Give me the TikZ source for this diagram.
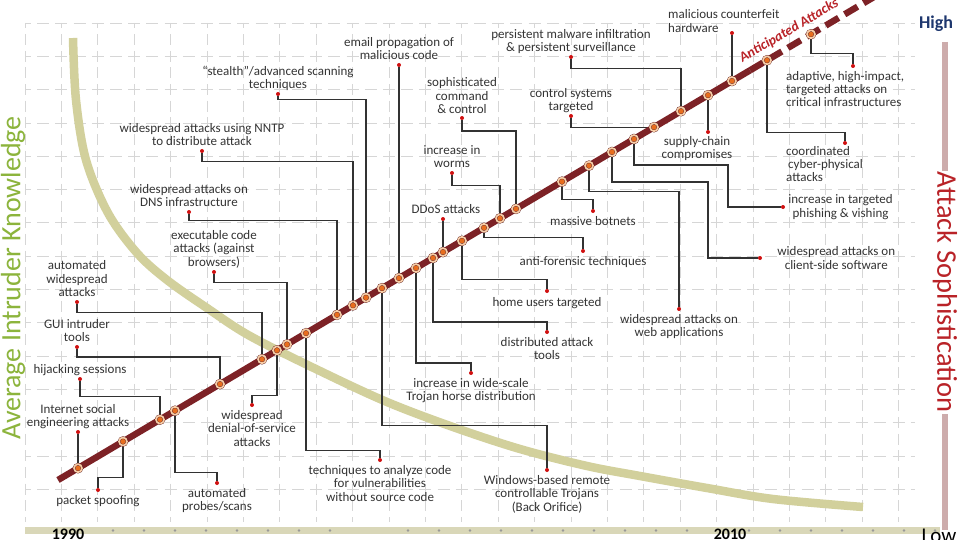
\documentclass[tikz,border=0pt]{standalone}
\usepackage{fontspec}
\setmainfont{Carlito}
\usetikzlibrary{positioning}
\definecolor{knowcurve}{RGB}{210,208,156}
\definecolor{trend}{RGB}{125,34,38}
\definecolor{spotorange}{RGB}{232,110,30}
\definecolor{spotrim}{RGB}{247,204,166}
\definecolor{tipred}{RGB}{208,16,16}
\definecolor{linkgray}{RGB}{50,50,50}
\definecolor{labelgray}{RGB}{52,52,52}
\definecolor{gridgray}{RGB}{214,214,214}
\definecolor{axisbar}{RGB}{217,215,184}
\definecolor{sophbar}{RGB}{205,172,172}
\definecolor{sophred}{RGB}{185,35,40}
\definecolor{knowgreen}{RGB}{140,180,60}
\definecolor{highblue}{RGB}{30,55,110}

\begin{document}
\begin{tikzpicture}[x=1pt, y=-1pt,
    lbl/.style={font=\fontsize{13}{13.3}\selectfont, text=labelgray, align=center, inner sep=0pt},
    hotspot/.style={circle, fill=spotorange, draw=trend!70!black, double=spotrim, double distance=1.7pt, line width=0.35pt, minimum size=8pt, inner sep=0pt},
    tip/.style={circle, fill=tipred, minimum size=4pt, inner sep=0pt},
    link/.style={draw=linkgray, line width=1.3pt},
    hgrid/.style={draw=gridgray, line width=0.7pt, dash pattern=on 12pt off 6.2pt, dash phase=6pt},
    vgrid/.style={draw=gridgray, line width=0.7pt, dash pattern=on 11pt off 5.65pt, dash phase=5.5pt}]
    \useasboundingbox[fill=white] (0,0) rectangle (960,540);

    % Grid
    \foreach \gx in {0,...,24}
        \draw[vgrid] ({25+36.4*\gx},23) -- ({25+36.4*\gx},522);
    \foreach \gy in {0,...,14}
        \draw[hgrid] (25,{23+33.3*\gy}) -- (915,{23+33.3*\gy});

    % Intruder knowledge curve
    \draw[knowcurve, line width=8.5pt] plot[smooth, tension=0.55] coordinates {(73,38) (76,100) (86,160) (108,213) (137,253) (167,280) (207,308) (250,336) (320,371) (387,402) (453,427) (520,449) (587,466) (640,476) (707,488) (773,499) (863,507)};

    % Axes
    \draw[axisbar, line width=7pt] (25,530.5) -- (940,530.5);
    \foreach \bx in {113,144,...,330,408,439,...,687,749,780,...,935}
        \fill[gray!80] (\bx,530.5) circle (1.3pt);
    \draw[sophbar, line width=6.5pt] (945,42) -- (945,530);
    \node[font=\fontsize{28.5}{28.5}\selectfont, text=sophred, rotate=-90, fill=white, inner sep=1pt] (soph) at (945,292) {Attack Sophistication};
    \node[font=\fontsize{28}{28}\selectfont, text=knowgreen, rotate=90, inner sep=0pt] (know) at (13,278) {Average Intruder Knowledge};
    \node[font=\fontsize{18}{18}\selectfont\bfseries, text=highblue, inner sep=0pt] (high) at (936,24) {High};
    \node[font=\fontsize{21}{21}\selectfont, anchor=north, inner sep=0pt] (low) at (939,529) {Low};
    \node[font=\fontsize{16}{16}\selectfont\bfseries, anchor=north, inner sep=0pt] (y1990) at (68,529) {1990};
    \node[font=\fontsize{16}{16}\selectfont\bfseries, anchor=north, inner sep=0pt] (y2010) at (730,529) {2010};

    % Points on the trend and label ends
    \foreach \n/\x in {1/78,2/123,3/160,4/175,5/220,6/262,7/277,8/287,9/306,10/337,11/353,12/366,13/382,14/399,15/416,16/433,17/443,18/462,19/484,20/500,21/516,22/562,23/589,24/612,25/634,26/654,27/681,28/708,29/732,30/767,31/811}
        \coordinate (d\n) at (\x,{480-0.592*(\x-58)});
    \foreach \n/\x/\y in {1/78/432,2/98/490,3/80/379,4/217/483,5/77/347,6/77/302,7/252/405,8/214/272,9/380/460,10/189/212,11/202/151,12/278/94,13/547/470,14/399/65,15/471/373,16/547/332,17/443/219,18/547/291,19/583/251,20/452/173,21/462/118,22/593/211,23/679/309,24/760/258,25/783/207,26/571/116,27/571/57,28/708/132,29/732/33,30/845/143,31/853/66}
        \node[tip] (e\n) at (\x,\y) {};

    % Connectors
    \draw[link] (d1) -- (e1);
    \draw[link] (d2) -- ++(0,36) -| (e2);
    \draw[link] (d3) -- ++(0,-23) -| (e3);
    \draw[link] (d4) -- ++(0,62) -| (e4);
    \draw[link] (d5) -- ++(0,-27) -| (e5);
    \draw[link] (d6) -- ++(0,-47) -| (e6);
    \draw[link] (d7) -- ++(0,45) -| (e7);
    \draw[link] (d8) -- ++(0,-62) -| (e8);
    \draw[link] (d9) -- ++(0,117) -| (e9);
    \draw[link] (d10) -- ++(0,-94) -| (e10);
    \draw[link] (d11) -- ++(0,-144) -| (e11);
    \draw[link] (d12) -- ++(0,-198) -| (e12);
    \draw[link] (d13) -- ++(0,137) -| (e13);
    \draw[link] (d14) -- (e14);
    \draw[link] (d15) -- ++(0,95) -| (e15);
    \draw[link] (d16) -- ++(0,64) -| (e16);
    \draw[link] (d17) -- (e17);
    \draw[link] (d18) -- ++(0,39) -| (e18);
    \draw[link] (d19) -- ++(0,10) -| (e19);
    \draw[link] (d20) -- ++(0,-33) -| (e20);
    \draw[link] (d21) -- ++(0,-78) -| (e21);
    \draw[link] (d22) -- ++(0,18) -| (e22);
    \draw[link] (d23) -- ++(0,26) -| (e23);
    \draw[link] (d24) -- ++(0,30) -- ++(96,0) |- (e24);
    \draw[link] (d25) -- ++(0,26) -- ++(94,0) |- (e25);
    \draw[link] (d26) -| (e26);
    \draw[link] (d27) -- ++(0,-43) -| (e27);
    \draw[link] (d28) -- (e28);
    \draw[link] (d29) -- (e29);
    \draw[link] (d30) -- ++(0,72) -| (e30);
    \draw[link] (d31) -- ++(0,19) -| (e31);

    % Trend line
    \coordinate (t0) at (58,480);
    \coordinate (t1) at (750,{480-0.592*692});
    \coordinate (t2) at (890,{480-0.592*832});
    \draw[trend, line width=6.5pt] (t0) -- (t1);
    \draw[trend, line width=6.5pt, dash pattern=on 15pt off 7pt] (t1) -- (t2);
    \foreach \n in {1,...,31}
        \node[hotspot] (h\n) at (d\n) {};
    \node[rotate=30.6, font=\fontsize{14}{14}\selectfont\bfseries\itshape, text=sophred, inner sep=0pt] (antic) at (789,31) {Anticipated Attacks};

    % Labels
    \node[lbl, above=1pt of e1] (l1) {Internet social\\engineering attacks};
    \node[lbl, below=3pt of e2] (l2) {packet spoofing};
    \node[lbl, above=1pt of e3] (l3) {hijacking sessions};
    \node[lbl, below=3pt of e4] (l4) {automated\\probes/scans};
    \node[lbl, above=3pt of e5] (l5) {GUI intruder\\tools};
    \node[lbl, above=3pt of e6] (l6) {automated\\widespread\\attacks};
    \node[lbl, below=3pt of e7] (l7) {widespread\\denial-of-service\\attacks};
    \node[lbl, above=1.5pt of e8] (l8) {executable code\\attacks (against\\browsers)};
    \node[lbl, below=3pt of e9] (l9) {techniques to analyze code\\for vulnerabilities\\without source code};
    \node[lbl, above=3pt of e10] (l10) {widespread attacks on\\DNS infrastructure};
    \node[lbl, above=3pt of e11] (l11) {widespread attacks using NNTP\\to distribute attack};
    \node[lbl, above=1pt of e12] (l12) {“stealth”/advanced scanning\\techniques};
    \node[lbl, below=3pt of e13] (l13) {Windows-based remote\\controllable Trojans\\(Back Orifice)};
    \node[lbl, above=3pt of e14] (l14) {email propagation of\\malicious code};
    \node[lbl, below=3pt of e15] (l15) {increase in wide-scale\\Trojan horse distribution};
    \node[lbl, below=3pt of e16] (l16) {distributed attack\\tools};
    \node[lbl, above=3pt of e17, xshift=3pt] (l17) {DDoS attacks};
    \node[lbl, below=4pt of e18] (l18) {home users targeted};
    \node[lbl, below=3pt of e19] (l19) {anti-forensic techniques};
    \node[lbl, above=3pt of e20] (l20) {increase in\\worms};
    \node[lbl, above=2pt of e21] (l21) {sophisticated\\command\\ \& control};
    \node[lbl, below=3pt of e22] (l22) {massive botnets};
    \node[lbl, below=3pt of e23] (l23) {widespread attacks on\\web applications};
    \node[lbl, right=15pt of e24] (l24) {widespread attacks on\\client-side software};
    \node[lbl, right=3pt of e25] (l25) {increase in targeted\\phishing \& vishing};
    \node[lbl, above=1pt of e26] (l26) {control systems\\targeted};
    \node[lbl, above=1pt of e27] (l27) {persistent malware infiltration\\ \& persistent surveillance};
    \node[lbl, below=2pt of e28, xshift=-11pt] (l28) {supply-chain\\compromises};
    \node[lbl, align=left, anchor=west] (l29) at (668,21) {malicious counterfeit\\hardware};
    \node[lbl, align=left, anchor=north west] (l30) at (786,146) {coordinated\\\hspace{2pt}cyber-physical\\attacks};
    \node[lbl, align=left, anchor=north west] (l31) at (786,71) {adaptive, high-impact,\\targeted attacks on\\critical infrastructures};
\end{tikzpicture}
\end{document}
